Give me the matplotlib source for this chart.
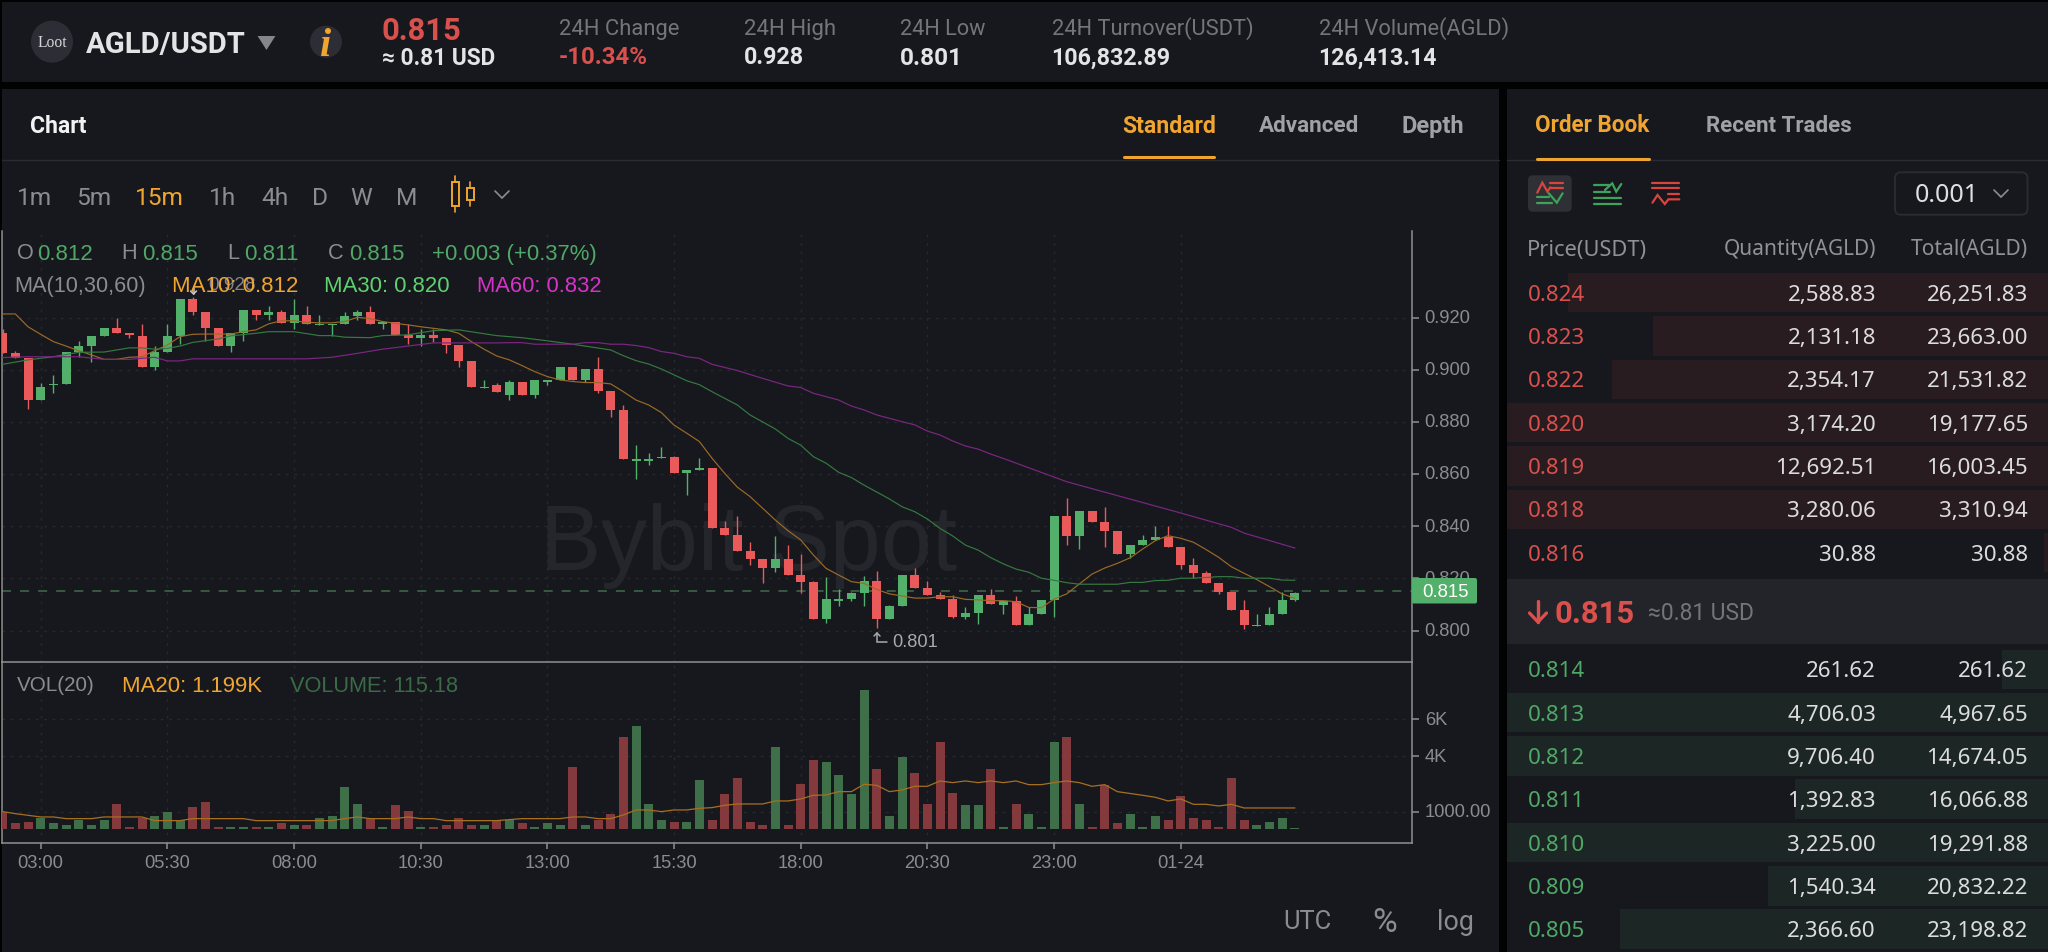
import matplotlib
matplotlib.use("Agg")
import matplotlib.pyplot as plt
from matplotlib.font_manager import FontProperties
from matplotlib.patches import Rectangle, Circle, FancyBboxPatch, Polygon
from matplotlib.textpath import TextPath
from matplotlib.transforms import ScaledTranslation

# ---------------- data ----------------
opens = [.9140,.9063,.9045,.8884,.8940,.8945,.9070,.9090,.9130,.9160,.9140,.9130,.9010,.9070,.9130,.9270,.9220,.9160,.9090,.9140,
         .9230,.9210,.9222,.9180,.9210,.9170,.9170,.9176,.9205,.9222,.9176,.9183,.9135,.9122,.9135,.9122,.9095,.9032,.8929,.8940,
         .8905,.8953,.8905,.8955,.8961,.9010,.8961,.9002,.8919,.8844,.8650,.8650,.8660,.8665,.8603,.8615,.8622,.8394,.8366,.8304,
         .8275,.8240,.8275,.8212,.8185,.8046,.8115,.8123,.8143,.8190,.8046,.8095,.8212,.8164,.8137,.8123,.8053,.8066,.8137,.8100,
         .8112,.8022,.8064,.8119,.8438,.8363,.8459,.8418,.8383,.8294,.8327,.8348,.8360,.8320,.8250,.8222,.8181,.8147,.8078,.8016,
         .8022,.8064,.8119]
highs = [.9155,.9072,.9045,.8950,.8980,.9070,.9110,.9130,.9160,.9200,.9140,.9175,.9090,.9175,.9270,.9280,.9220,.9160,.9140,.9230,
         .9230,.9245,.9230,.9270,.9245,.9210,.9176,.9220,.9230,.9245,.9183,.9183,.9175,.9155,.9155,.9122,.9095,.9032,.8960,.8950,
         .8960,.8953,.8961,.8961,.9010,.9010,.9002,.9050,.8919,.8865,.8710,.8680,.8705,.8670,.8615,.8660,.8622,.8420,.8440,.8340,
         .8275,.8364,.8330,.8294,.8190,.8205,.8160,.8150,.8210,.8230,.8100,.8212,.8240,.8190,.8150,.8135,.8090,.8137,.8160,.8112,
         .8133,.8090,.8119,.8438,.8507,.8459,.8459,.8473,.8383,.8327,.8368,.8403,.8403,.8320,.8279,.8230,.8181,.8147,.8119,.8064,
         .8090,.8147,.8150]
lows = [.9063,.9045,.8850,.8884,.8910,.8945,.9050,.9030,.9130,.9140,.9120,.9010,.9000,.9070,.9100,.9210,.9110,.9090,.9070,.9110,
        .9190,.9190,.9180,.9155,.9175,.9170,.9130,.9176,.9190,.9176,.9155,.9135,.9100,.9090,.9105,.9065,.9010,.8935,.8929,.8914,
        .8884,.8905,.8890,.8940,.8961,.8961,.8953,.8910,.8820,.8657,.8580,.8635,.8660,.8603,.8520,.8615,.8394,.8366,.8304,.8250,
        .8184,.8225,.8212,.8146,.8046,.8030,.8095,.8115,.8095,.8010,.8046,.8095,.8164,.8137,.8123,.8048,.8045,.8025,.8103,.8064,
        .8022,.8022,.8064,.8051,.8327,.8313,.8418,.8320,.8294,.8280,.8327,.8348,.8320,.8236,.8200,.8181,.8140,.8078,.8008,.8016,
        .8022,.8064,.8112]
closes = [.9063,.9045,.8884,.8933,.8945,.9070,.9090,.9130,.9160,.9140,.9135,.9010,.9070,.9130,.9270,.9220,.9160,.9090,.9140,.9230,
          .9210,.9222,.9180,.9210,.9175,.9176,.9176,.9205,.9222,.9176,.9183,.9135,.9120,.9135,.9122,.9095,.9032,.8935,.8935,.8914,
          .8953,.8905,.8961,.8961,.9010,.8961,.9002,.8919,.8844,.8657,.8657,.8657,.8666,.8603,.8615,.8622,.8394,.8366,.8304,.8275,
          .8240,.8275,.8212,.8185,.8046,.8122,.8122,.8143,.8190,.8046,.8095,.8212,.8164,.8137,.8123,.8053,.8066,.8137,.8103,.8112,
          .8022,.8064,.8119,.8438,.8363,.8459,.8418,.8383,.8294,.8327,.8348,.8360,.8320,.8250,.8222,.8181,.8147,.8078,.8022,.8022,
          .8064,.8119,.8146]
volumes = [1009,378,468,685,378,270,577,270,577,1441,180,685,775,973,540,1261,1550,180,180,180,
           180,180,378,270,270,667,775,2324,1441,667,180,1351,1063,180,180,270,667,270,270,558,
           540,378,180,378,270,3405,270,577,865,5063,5658,1441,577,468,468,2720,558,1946,2828,468,
           270,4486,270,2522,3802,3694,3009,1946,7603,3315,775,3982,3117,1441,4775,2036,1351,1351,3315,180,
           1441,865,180,4775,5063,1441,180,2432,378,865,180,775,558,1837,667,558,180,2828,558,270,
           468,667,115.18]
ma10 = [.9214,.9214,.9165,.9136,.9108,.9091,.9073,.9057,.9040,.9040,.9048,.9050,.9073,.9095,.9127,.9136,.9137,.9137,.9137,.9146,
        .9153,.9176,.9188,.9188,.9182,.9180,.9180,.9185,.9201,.9196,.9185,.9178,.9172,.9165,.9159,.9153,.9140,.9108,.9079,.9053,
        .9038,.9016,.8993,.8974,.8961,.8955,.8951,.8951,.8946,.8916,.8884,.8865,.8836,.8788,.8757,.8725,.8661,.8603,.8550,.8514,
        .8469,.8424,.8383,.8348,.8290,.8239,.8213,.8188,.8181,.8158,.8141,.8133,.8125,.8125,.8130,.8130,.8120,.8118,.8115,.8115,
        .8111,.8089,.8088,.8121,.8141,.8179,.8217,.8240,.8258,.8279,.8313,.8345,.8364,.8354,.8339,.8311,.8281,.8245,.8220,.8196,
        .8169,.8141,.8124]
ma30_idx = [0,2,4,6,8,10,11,12,13,14,15,17,18,20,21,23,25,26,27,29,30,32,34,36,39,40,41,43,45,48,49,50,51,52,54,55,56,58,59,61,62,63,
            64,65,66,67,68,70,71,72,73,74,75,76,77,78,79,80,81,82,83,84,85,86,88,89,90,91,92,93,94,95,96,97,98,99,100,101,102]
ma30 = [.9021,.9038,.9050,.9067,.9068,.9084,.9084,.9079,.9082,.9091,.9105,.9118,.9130,.9140,.9146,.9146,.9131,.9131,.9125,.9123,.9131,.9134,.9150,.9153,.9131,
        .9127,.9123,.9111,.9098,.9076,.9054,.9035,.9022,.9003,.8958,.8943,.8916,.8865,.8827,.8773,.8737,.8711,
        .8667,.8642,.8607,.8587,.8558,.8505,.8475,.8456,.8428,.8392,.8363,.8328,.8309,.8280,.8256,.8236,.8224,.8201,.8193,.8184,.8178,.8178,.8178,.8185,.8185,.8192,.8193,.8201,.8201,.8204,.8207,.8207,.8201,.8201,.8201,.8194,.8193]
ma60_idx = [0,2,4,6,8,10,12,13,14,15,24,26,28,30,32,34,39,40,41,42,45,46,47,48,49,50,51,52,53,54,55,56,58,60,62,63,64,66,67,68,69,71,72,73,74,75,76,77,78,79,84,93,97,98,102]
ma60 = [.9047,.9050,.9050,.9050,.9040,.9040,.9048,.9034,.9034,.9042,.9042,.9048,.9063,.9079,.9091,.9103,.9103,.9104,.9104,.9098,.9098,.9104,.9104,.9098,.9098,.9093,.9085,.9070,.9063,.9050,.9044,.9021,.8997,.8967,.8938,.8932,.8910,.8884,.8861,.8846,.8827,.8801,.8789,.8765,.8750,.8727,.8708,.8696,.8677,.8660,.8571,.8451,.8396,.8374,.8317]
vol_ma_idx = [0,1,3,4,5,7,8,11,12,14,15,19,20,26,27,28,29,31,32,33,34,35,39,41,44,45,46,47,48,49,50,51,52,53,54,55,56,57,58,60,61,62,63,64,65,66,67,68,69,70,71,72,73,74,75,76,77,78,79,80,81,82,83,84,85,86,87,88,90,91,92,93,94,95,96,97,98,102]
vol_ma = [1009,900,721,721,631,631,721,721,523,523,631,631,523,523,631,721,631,631,721,631,631,523,523,631,631,721,721,631,631,829,1099,1099,1009,1099,1099,1189,1225,1351,1423,1423,1586,1586,1694,1892,1910,2090,2090,2486,2432,2090,2180,2378,2378,2667,2577,2667,2577,2667,2577,2667,2468,2468,2577,2667,2577,2378,2468,2090,1892,1784,1586,1694,1405,1405,1315,1405,1207,1207]
time_idx = [3,13,23,33,43,53,63,73,83,93]
time_labels = ["03:00","05:30","08:00","10:30","13:00","15:30","18:00","20:30","23:00","01-24"]
price_ticks = [.80,.82,.84,.86,.88,.90,.92]
price_labels = ["0.800","0.820","0.840","0.860","0.880","0.900","0.920"]
vol_ticks = [1000,4000,6000]
vol_labels = ["1000.00","4K","6K"]
last_price = 0.8153

ask_rows = [("0.824","2,588.83","26,251.83"),("0.823","2,131.18","23,663.00"),("0.822","2,354.17","21,531.82"),
            ("0.820","3,174.20","19,177.65"),("0.819","12,692.51","16,003.45"),("0.818","3,280.06","3,310.94"),("0.816","30.88","30.88")]
bid_rows = [("0.814","261.62","261.62"),("0.813","4,706.03","4,967.65"),("0.812","9,706.40","14,674.05"),
            ("0.811","1,392.83","16,066.88"),("0.810","3,225.00","19,291.88"),("0.809","1,540.34","20,832.22"),("0.805","2,366.60","23,198.82")]
ask_left = [1568,1653,1612,1507,1507,1507,2044]
bid_left = [2002,1507,1507,1794.5,1507,1768.4,1619.5]

# ---------------- palette ----------------
BG="#17181e"; BLACK="#020203"; RED="#ea5a5a"; GREEN="#53b06a"; TXTRED="#d9504c"; TXTGREEN="#4fa866"
GREY="#8b8c91"; DIM="#74757b"; ORANGE="#efa52f"; LINE="#2a2c32"
ASK="#281c20"; BID="#1c2625"; AXIS="#8f9094"

W,H=2048,952
fig=plt.figure(figsize=(W/100,H/100),dpi=100,facecolor=BLACK)

def pix_axes(z):
    a=fig.add_axes([0,0,1,1],zorder=z)
    a.set_xlim(0,W); a.set_ylim(H,0); a.axis("off")
    a.patch.set_alpha(0)
    return a
back=pix_axes(0); front=pix_axes(5)

def rect(a,x0,y0,x1,y1,c,**k):
    a.add_patch(Rectangle((x0,y0),x1-x0,y1-y0,facecolor=c,edgecolor="none",**k))

def txt(a,s,y,x0=None,x1=None,c="#fff",fam="Noto Sans",w="normal",st="normal",px=None):
    fp=FontProperties(family=fam,weight=w,style=st)
    left=x0
    if px is None:
        ext=TextPath((0,0),s,size=10,prop=fp).get_extents()
        px=10*(x1-x0)/ext.width
        left=x0-ext.x0*px/10
    base=y+0.36*px
    if x0 is not None:
        a.text(left,base,s,color=c,fontproperties=fp,fontsize=px*0.72,ha="left",va="baseline")
    else:
        a.text(x1,base,s,color=c,fontproperties=fp,fontsize=px*0.72,ha="right",va="baseline")

def poly(a,xs,ys,c,lw=1.3,**k):
    a.plot(xs,ys,color=c,lw=lw,solid_capstyle="round",solid_joinstyle="miter",**k)

# panels
rect(back,2,2,W,82,BG)
rect(back,2,88.7,1499.3,H,BG)
rect(back,1506.8,88.7,W,H,BG)

# ---------------- header ----------------
back.add_patch(Circle((52,41.7),21,facecolor="#2d2e35",edgecolor="none"))
txt(back,"Loot",41.5,38,67,"#d5d5d8",fam="Liberation Serif")
txt(back,"AGLD/USDT",42,85.7,244.6,"#e4e4e6",fam="Roboto",w="bold")
back.add_patch(Polygon([(257.6,36),(275.4,36),(266.5,50)],facecolor="#85868b",edgecolor="none"))
back.add_patch(Circle((326,41.7),16,facecolor="#2d2e35",edgecolor="none"))
txt(back,"i",41.7,321,331,ORANGE,fam="Liberation Serif",w="bold",st="italic")
txt(back,"0.815",29,383,460,TXTRED,fam="Roboto",w="bold")
txt(back,"≈ 0.81 USD",57,383,494,"#e4e4e6",fam="Roboto",w="bold")
txt(back,"24H Change",27,560,679,DIM,fam="Roboto")
txt(back,"-10.34%",55.7,560,647,TXTRED,fam="Roboto",w="bold")
txt(back,"24H High",27,745,835,DIM,fam="Roboto")
txt(back,"0.928",56,745,803,"#e4e4e6",fam="Roboto",w="bold")
txt(back,"24H Low",27,901.5,986,DIM,fam="Roboto")
txt(back,"0.801",56,901.5,959,"#e4e4e6",fam="Roboto",w="bold")
txt(back,"24H Turnover(USDT)",27,1053,1253,DIM,fam="Roboto")
txt(back,"106,832.89",56,1053,1169,"#e4e4e6",fam="Roboto",w="bold")
txt(back,"24H Volume(AGLD)",27,1320,1507.7,DIM,fam="Roboto")
txt(back,"126,413.14",56,1320,1436,"#e4e4e6",fam="Roboto",w="bold")

# tabs
txt(back,"Chart",125,31,86,"#f2f2f2",fam="Roboto",w="bold")
txt(back,"Standard",124.3,1123,1215,ORANGE,fam="Roboto",w="bold")
txt(back,"Advanced",124.3,1259,1358,"#a0a1a6",fam="Roboto",w="bold")
txt(back,"Depth",124.3,1403,1463,"#a0a1a6",fam="Roboto",w="bold")
poly(back,[2,1499.3],[160,160],LINE,lw=1)
poly(back,[1506.8,W],[160,160],LINE,lw=1)
poly(back,[1124,1214],[157,157],ORANGE,lw=2.2)
poly(back,[1537,1649],[159,159],ORANGE,lw=2.2)

# timeframe row
for s,a0,a1,c in [("1m",16.5,52.7,GREY),("5m",76,112,GREY),("15m",135,186,ORANGE),("1h",209,237,GREY),
                  ("4h",261,289,GREY),("D",312,328,GREY),("W",350,372,GREY),("M",395.5,414,GREY)]:
    txt(back,s,195.7,x0=a0,c=c,fam="Roboto",px=24.5)
poly(back,[455,455],[176,212],ORANGE,lw=1.2)
back.add_patch(Rectangle((451.5,182),7,24,facecolor=BG,edgecolor=ORANGE,lw=1.4,zorder=3))
poly(back,[470,470],[182,206],ORANGE,lw=1.2)
back.add_patch(Rectangle((466.5,187.5),7,12.5,facecolor=BG,edgecolor=ORANGE,lw=1.4,zorder=3))
poly(back,[495,502,509],[191,198,191],GREY,lw=1.2)

# watermark
txt(back,"Bybit Spot",537,548,957,"#24262c",fam="Liberation Sans")

# ---------------- chart axes ----------------
X0,XSTEP=2.67,12.667
AXL,AXR=2.0,1411.5
xlim=((AXL-X0)/XSTEP,(AXR-X0)/XSTEP)
ax=fig.add_axes([AXL/W,1-661.7/H,(AXR-AXL)/W,(661.7-231)/H],zorder=2)
vx=fig.add_axes([AXL/W,1-843.3/H,(AXR-AXL)/W,(843.3-661.7)/H],zorder=2)
idx=list(range(len(closes)))
colors=[GREEN if c>=o else RED for o,c in zip(opens,closes)]
vcolors=["#3e6f49" if c>=o else "#843a3c" for o,c in zip(opens,closes)]

ax.vlines(idx,lows,highs,colors=colors,lw=1.0,zorder=3)
ax.bar(idx,[c-o for o,c in zip(opens,closes)],bottom=opens,width=0.71,color=colors,lw=0,zorder=3)
ax.plot(idx,ma10,color="#9c6a26",lw=0.85,zorder=4)
ax.plot(ma30_idx,ma30,color="#357a40",lw=0.85,zorder=4)
ax.plot(ma60_idx,ma60,color="#7d2682",lw=0.85,zorder=4)
ax.axhline(last_price,color="#3a6044",lw=1.3,ls=(0,(5,5)),zorder=2)
ax.set_xlim(*xlim); ax.set_ylim(.7881,.9532)

vx.bar(idx,[v-72 for v in volumes],bottom=72,width=0.71,color=vcolors,lw=0,zorder=3)
vx.plot(vol_ma_idx,vol_ma,color="#a86f1f",lw=0.9,zorder=4)
vx.set_xlim(*xlim); vx.set_ylim(-703,9114)

up=ScaledTranslation(0,1.3/100,fig.dpi_scale_trans)
for a in (ax,vx):
    a.set_facecolor("none")
    a.yaxis.tick_right()
    a.spines["top"].set_visible(False)
    for s in ("left","right","bottom"):
        a.spines[s].set_color(AXIS); a.spines[s].set_linewidth(1.1)
    a.grid(True,color="#26282e",lw=1,ls=(0,(2,4)))
    a.set_axisbelow(True)
    a.set_xticks(time_idx)
ax.set_yticks(price_ticks); ax.set_yticklabels(price_labels)
vx.set_yticks(vol_ticks); vx.set_yticklabels(vol_labels)
ax.tick_params(axis="x",length=0,labelbottom=False)
vx.set_xticklabels(time_labels)
vx.tick_params(axis="x",length=4.5,width=1.1,color=AXIS,labelcolor=GREY,labelsize=13.2,pad=4)
for a in (ax,vx):
    a.tick_params(axis="y",length=5,width=1.1,color=AXIS,labelcolor=GREY,labelsize=13.2,pad=4.5)
    for l in a.get_yticklabels():
        l.set_family("Liberation Sans")
        l.set_transform(l.get_transform()+up)
    for l in a.get_xticklabels():
        l.set_family("Liberation Sans")

# price tag
front.add_patch(FancyBboxPatch((1412,578),65,25.5,boxstyle="round,pad=0,rounding_size=2",facecolor=GREEN,edgecolor="none"))
txt(front,"0.815",590.7,1423,1468,"#ffffff",fam="Liberation Sans")
# low / high markers
poly(front,[877,877,887],[633,642,642],"#a8a9ad",lw=1.1)
poly(front,[874,877,880],[636,633,636],"#a8a9ad",lw=1.1)
txt(front,"0.801",640,893,937,"#a8a9ad",fam="Liberation Sans")
txt(front,"0.928",283,209,255,"#85868b",fam="Liberation Sans")
poly(front,[193.5,193.5],[288,294],"#c8c8cc",lw=1.1)
poly(front,[190.5,193.5,196.5],[291,294,291],"#c8c8cc",lw=1.1)

# legends
F="Liberation Sans"
for s,a0,c in [("O",16.7,GREY),("H",121.4,GREY),("L",226.8,GREY),("C",328,GREY)]:
    txt(front,s,251.7,x0=a0,c=c,fam=F,px=21.6)
for s,a0,a1,c,y in [("0.812",38.4,92,TXTGREEN,251.7),("0.815",143,197,TXTGREEN,251.7),
                    ("0.811",244.6,297,TXTGREEN,251.7),("0.815",349.5,403,TXTGREEN,251.7),
                    ("+0.003 (+0.37%)",433,595,TXTGREEN,251.7),
                    ("MA(10,30,60)",16.5,145,GREY,284),("MA10: 0.812",174,297,ORANGE,284),
                    ("MA30: 0.820",326,449,"#5fd070",284),("MA60: 0.832",479,601,"#d633c9",284),
                    ("VOL(20)",16.5,93,GREY,684),("MA20: 1.199K",123.7,261.6,ORANGE,684),("VOLUME: 115.18",290,458,"#3a6b46",684)]:
    txt(front,s,y,a0,a1,c,fam=F)

# bottom right
txt(back,"UTC",920,1285,1330.5,GREY,fam="Roboto")
txt(back,"%",920,1373.5,1395,GREY,fam="Roboto")
txt(back,"log",920,1439,1472,GREY,fam="Roboto")

# ---------------- order book ----------------
txt(back,"Order Book",124.3,1536,1649.6,ORANGE,fam="Roboto",w="bold")
txt(back,"Recent Trades",124.3,1707.5,1850.7,"#a0a1a6",fam="Roboto",w="bold")
back.add_patch(FancyBboxPatch((1528,175.3),43.7,36.4,boxstyle="round,pad=0,rounding_size=5",facecolor="#2e3036",edgecolor="none"))
zx=lambda v:1480+v/2.76
zy=lambda v:80+v/3
IG,IR="#3da35a","#d9443f"
def ic(a,pts,c): poly(a,[zx(p[0]) for p in pts],[zy(p[1]) for p in pts],c,lw=1.6)
for p,c in [([(158,338),(172,308),(186,335),(194,322)],IR),([(192,310),(230,310)],IR),([(196,325),(230,325)],IR),
            ([(158,352),(190,352)],IG),([(158,370),(200,370)],IG),([(190,340),(212,368),(228,340)],IG),
            ([(316,315),(355,315)],IG),([(316,335),(360,335)],IG),([(316,355),(390,355)],IG),([(316,373),(390,373)],IG),
            ([(345,330),(365,310),(376,335),(390,312)],IG),
            ([(476,308),(550,308)],IR),([(476,325),(550,325)],IR),([(520,342),(550,342)],IR),
            ([(476,368),(490,345),(510,372),(520,358),(550,358)],IR)]:
    ic(back,p,c)
back.add_patch(FancyBboxPatch((1895,172.3),132.5,42.4,boxstyle="round,pad=0,rounding_size=6",facecolor=BG,edgecolor=LINE,lw=1.3))
txt(back,"0.001",193.3,1916,1973,"#e0e0e2")
poly(back,[1994,2001,2008],[190,197,190],GREY,lw=1.2)

txt(back,"Price(USDT)",247.7,1529,1645.6,"#909197")
txt(back,"Quantity(AGLD)",247.7,1725,1875,"#909197")
txt(back,"Total(AGLD)",247.7,1911,2027,"#909197")

ROW=43.33
for k,((p,q,t),l) in enumerate(zip(ask_rows,ask_left)):
    yc=292.7+ROW*k
    rect(back,l,yc-19.7,W,yc+19.7,ASK)
    txt(back,p,yc,x0=1528,c=TXTRED,px=22.3)
    txt(back,q,yc,x1=1876,c="#dcdcde",px=22.3)
    txt(back,t,yc,x1=2028,c="#dcdcde",px=22.3)
for k,((p,q,t),l) in enumerate(zip(bid_rows,bid_left)):
    yc=669.2+ROW*k
    rect(back,l,yc-19.7,W,yc+19.7,BID)
    txt(back,p,yc,x0=1528,c=TXTGREEN,px=22.3)
    txt(back,q,yc,x1=1876,c="#dcdcde",px=22.3)
    txt(back,t,yc,x1=2028,c="#dcdcde",px=22.3)

rect(back,1506.8,579,W,644,"#22242a")
poly(back,[1538,1538],[601,622],TXTRED,lw=2.4)
poly(back,[1529.5,1538,1546.5],[613,622,613],TXTRED,lw=2.4)
txt(back,"0.815",612.3,1555.7,1633,TXTRED,fam="Roboto",w="bold")
txt(back,"≈0.81 USD",612.3,1649,1752.5,DIM,fam="Roboto")

fig.savefig("out.png",dpi=100,facecolor=fig.get_facecolor())
